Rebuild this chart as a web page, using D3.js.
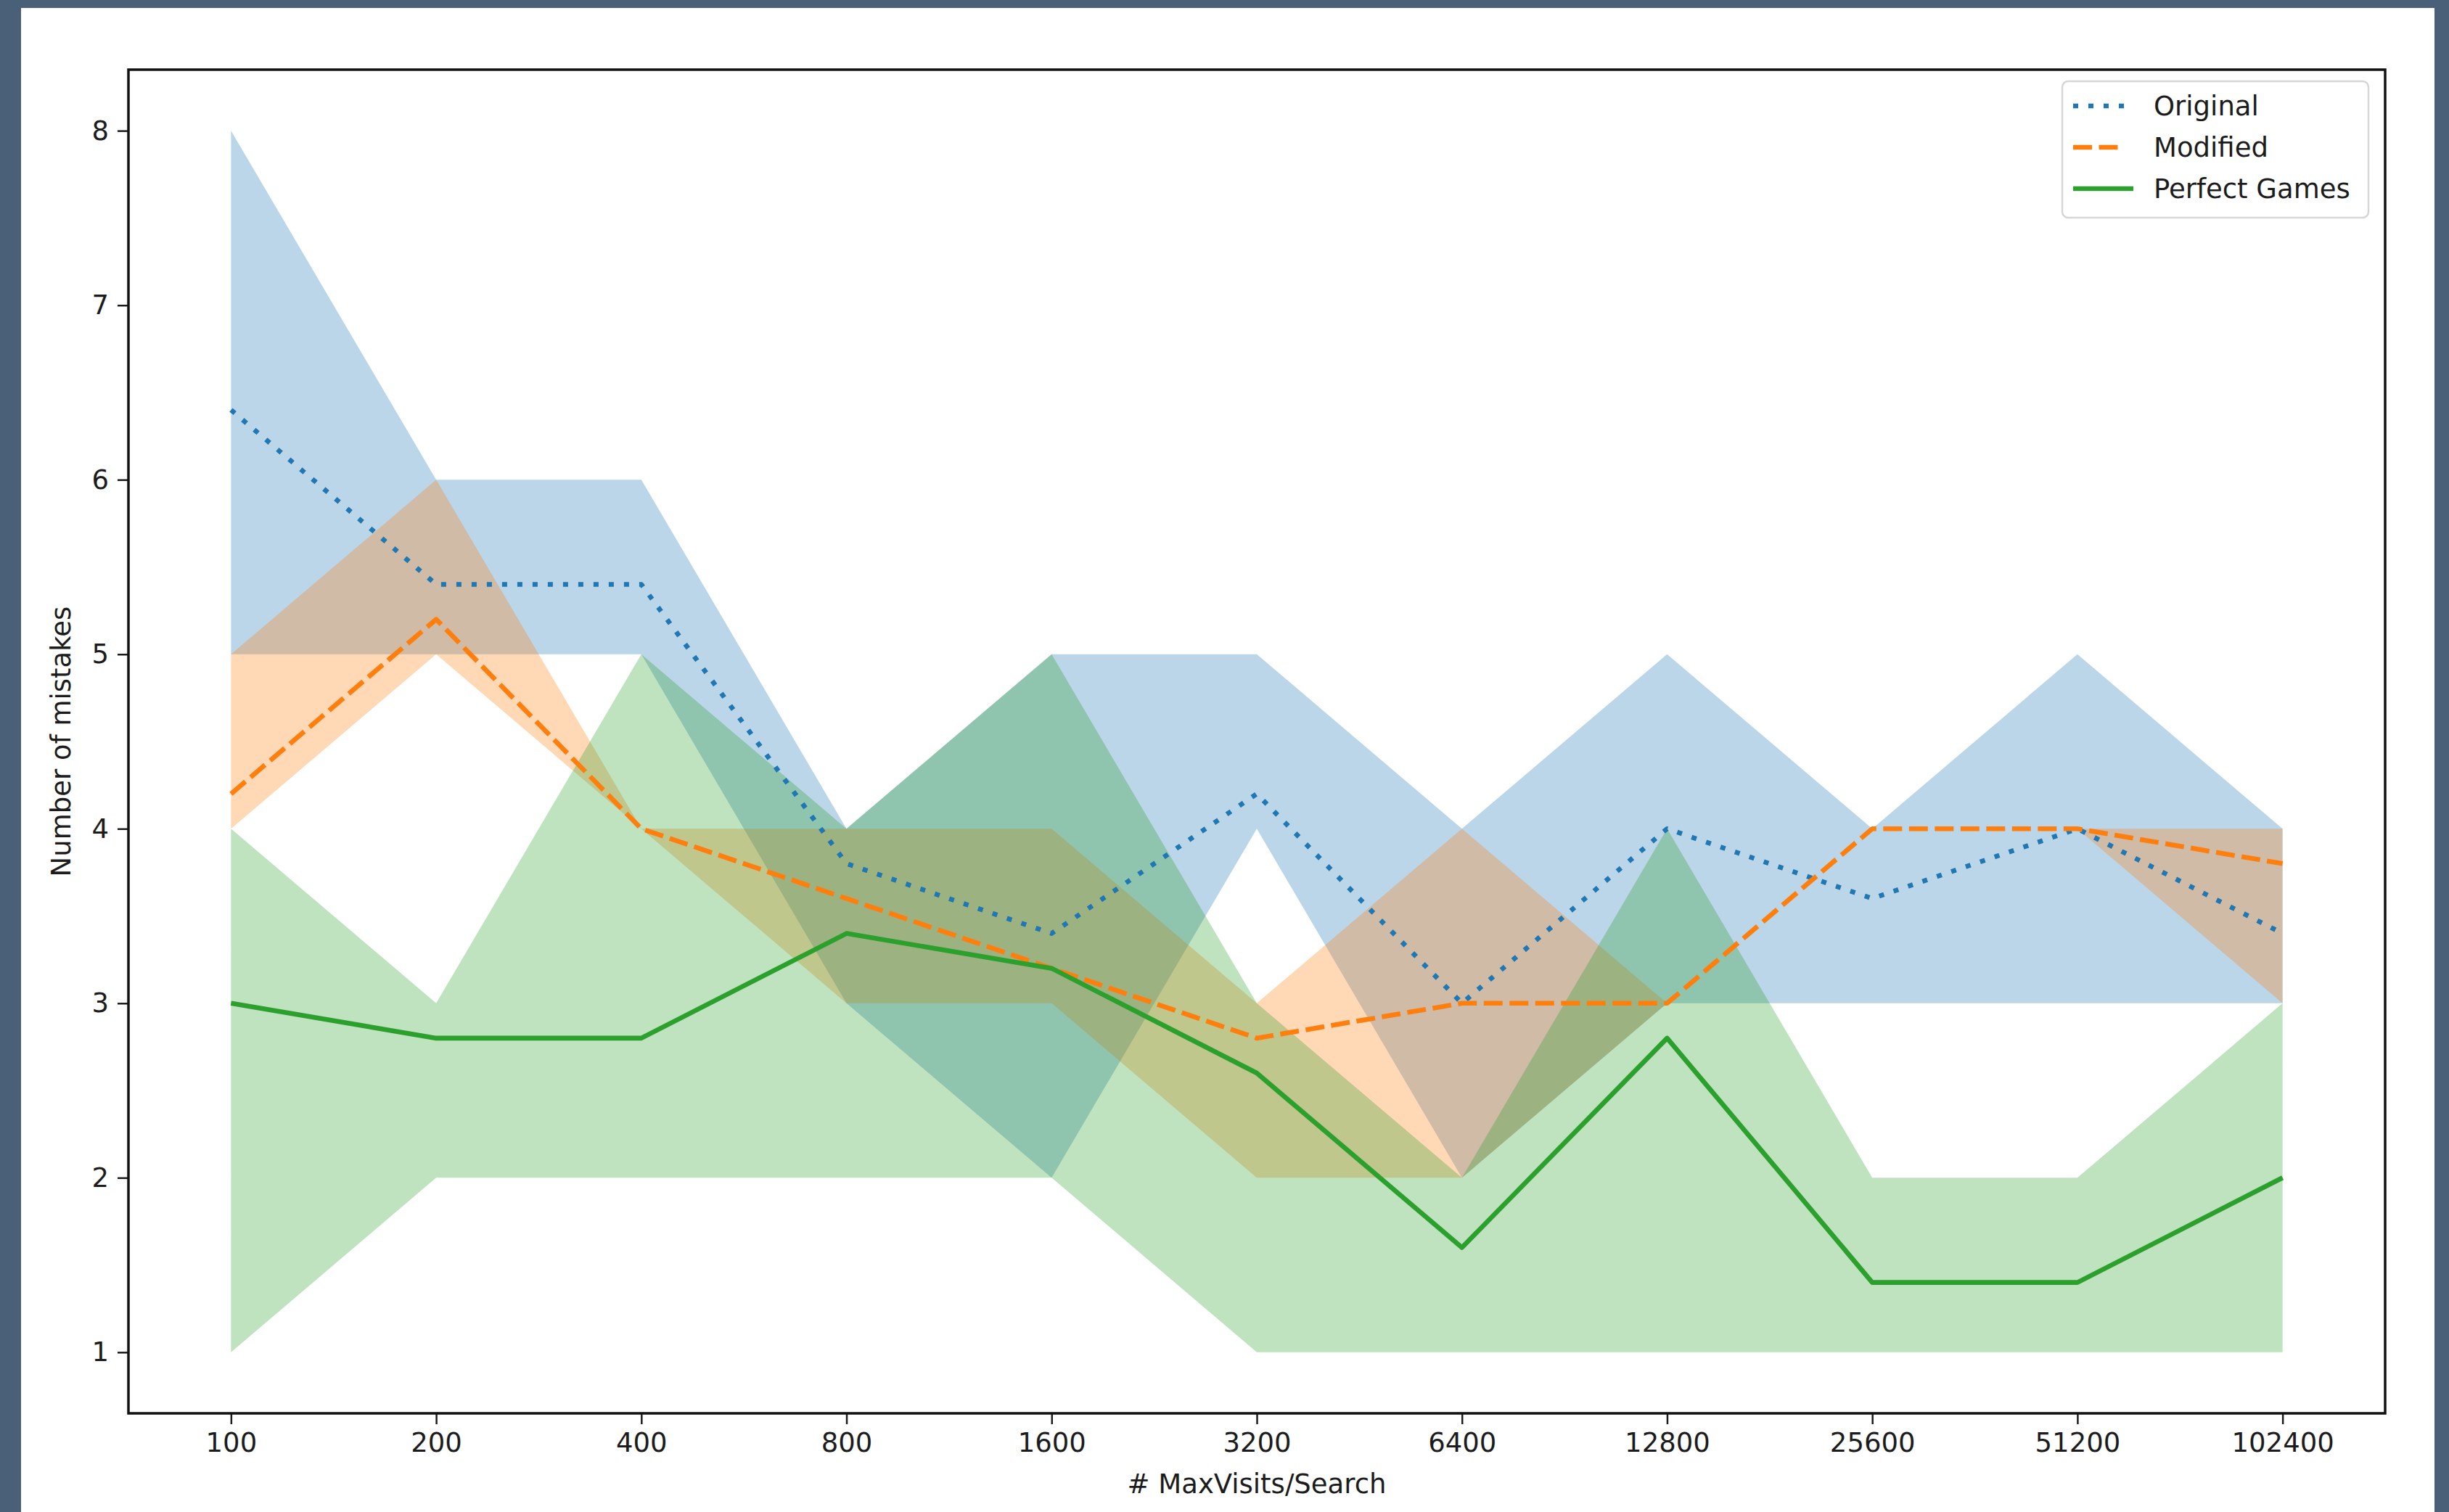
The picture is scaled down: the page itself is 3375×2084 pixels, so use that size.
<!DOCTYPE html>
<html>
<head>
<meta charset="utf-8">
<script src="https://cdn.jsdelivr.net/npm/d3@7"></script>
<style>
  html, body { margin: 0; padding: 0; background: #4a6079; }
  svg { display: block; }
  text { font-family: "DejaVu Sans", sans-serif; fill: #1c1c1c; }
</style>
</head>
<body>
<svg id="chart" width="3375" height="2084"></svg>
<script>
// Search budget per move (categorical x axis)
const visits = ["100", "200", "400", "800", "1600", "3200", "6400", "12800", "25600", "51200", "102400"];

// Mean number of mistakes per game
const originalMean = [6.4, 5.4, 5.4, 3.8, 3.4, 4.2, 3.0, 4.0, 3.6, 4.0, 3.4];
const modifiedMean = [4.2, 5.2, 4.0, 3.6, 3.2, 2.8, 3.0, 3.0, 4.0, 4.0, 3.8];
const perfectMean  = [3.0, 2.8, 2.8, 3.4, 3.2, 2.6, 1.6, 2.8, 1.4, 1.4, 2.0];

// Min / max range of mistakes
const originalMin = [5, 5, 5, 3, 2, 4, 2, 3, 3, 3, 3];
const originalMax = [8, 6, 6, 4, 5, 5, 4, 5, 4, 5, 4];
const modifiedMin = [4, 5, 4, 3, 3, 2, 2, 3, 4, 4, 3];
const modifiedMax = [5, 6, 4, 4, 4, 3, 4, 3, 4, 4, 4];
const perfectMin  = [1, 2, 2, 2, 2, 1, 1, 1, 1, 1, 1];
const perfectMax  = [4, 3, 5, 4, 5, 3, 2, 4, 2, 2, 3];

const yTicks = [1, 2, 3, 4, 5, 6, 7, 8];

const series = [
  { name: "Original",      color: "#1f77b4", mean: originalMean, lo: originalMin, hi: originalMax, dash: "7,14" },
  { name: "Modified",      color: "#ff7f0e", mean: modifiedMean, lo: modifiedMin, hi: modifiedMax, dash: "26,9.5" },
  { name: "Perfect Games", color: "#2ca02c", mean: perfectMean,  lo: perfectMin,  hi: perfectMax,  dash: null }
];

const svg = d3.select("#chart");

// white figure canvas
svg.append("rect").attr("x", 29).attr("y", 11).attr("width", 3326).attr("height", 2073).attr("fill", "#ffffff");

const plot = { left: 177, right: 3287, top: 96, bottom: 1948 };

const x = d3.scaleLinear().domain([-0.5, visits.length - 0.5]).range([plot.left, plot.right]);
const y = d3.scaleLinear().domain([0.65, 8.35]).range([plot.bottom, plot.top]);

// shaded min-max bands
const band = d3.area()
  .x((d, i) => x(i))
  .y0(d => y(d[0]))
  .y1(d => y(d[1]));

series.forEach(s => {
  const pts = s.lo.map((v, i) => [v, s.hi[i]]);
  svg.append("path")
    .attr("d", band(pts))
    .attr("fill", s.color)
    .attr("fill-opacity", 0.3);
});

// mean lines
const line = d3.line().x((d, i) => x(i)).y(d => y(d));
const lw = 6.6;

series.forEach(s => {
  const p = svg.append("path")
    .attr("d", line(s.mean))
    .attr("fill", "none")
    .attr("stroke", s.color)
    .attr("stroke-width", lw)
    .attr("stroke-linejoin", "round");
  if (s.dash) p.attr("stroke-dasharray", s.dash);
});

// axes
const xAxis = d3.axisBottom(x)
  .tickValues(d3.range(visits.length))
  .tickFormat(i => visits[i])
  .tickSize(15)
  .tickPadding(12);

const yAxis = d3.axisLeft(y)
  .tickValues(yTicks)
  .tickFormat(d3.format("d"))
  .tickSize(15)
  .tickPadding(12);

const gx = svg.append("g").attr("transform", `translate(0,${plot.bottom})`).call(xAxis);
const gy = svg.append("g").attr("transform", `translate(${plot.left},0)`).call(yAxis);

[gx, gy].forEach(g => {
  g.select(".domain").remove();
  g.selectAll(".tick line").attr("stroke", "#1c1c1c").attr("stroke-width", 2.5);
  g.selectAll(".tick text")
    .style("font-family", "'DejaVu Sans', sans-serif")
    .attr("font-size", 37)
    .attr("fill", "#1c1c1c");
});

// frame
svg.append("rect")
  .attr("x", plot.left).attr("y", plot.top)
  .attr("width", plot.right - plot.left).attr("height", plot.bottom - plot.top)
  .attr("fill", "none").attr("stroke", "#111").attr("stroke-width", 3.5);

// axis titles
svg.append("text")
  .attr("x", (plot.left + plot.right) / 2).attr("y", 2058)
  .attr("text-anchor", "middle").attr("font-size", 37)
  .text("# MaxVisits/Search");

svg.append("text")
  .attr("transform", `translate(97,${(plot.top + plot.bottom) / 2}) rotate(-90)`)
  .attr("text-anchor", "middle").attr("font-size", 37)
  .text("Number of mistakes");

// legend
const lg = svg.append("g");
lg.append("rect")
  .attr("x", 2842).attr("y", 112).attr("width", 422).attr("height", 188)
  .attr("rx", 8).attr("ry", 8)
  .attr("fill", "#ffffff").attr("fill-opacity", 0.85)
  .attr("stroke", "#d6d6d6").attr("stroke-width", 2.5);

series.forEach((s, i) => {
  const cy = 146 + i * 57;
  const l = lg.append("line")
    .attr("x1", 2857).attr("x2", s.dash ? 2928 : 2940)
    .attr("y1", cy).attr("y2", cy)
    .attr("stroke", s.color).attr("stroke-width", lw);
  if (s.dash) l.attr("stroke-dasharray", s.dash);
  lg.append("text")
    .attr("x", 2968).attr("y", cy + 13)
    .attr("font-size", 37)
    .text(s.name);
});
</script>
</body>
</html>
